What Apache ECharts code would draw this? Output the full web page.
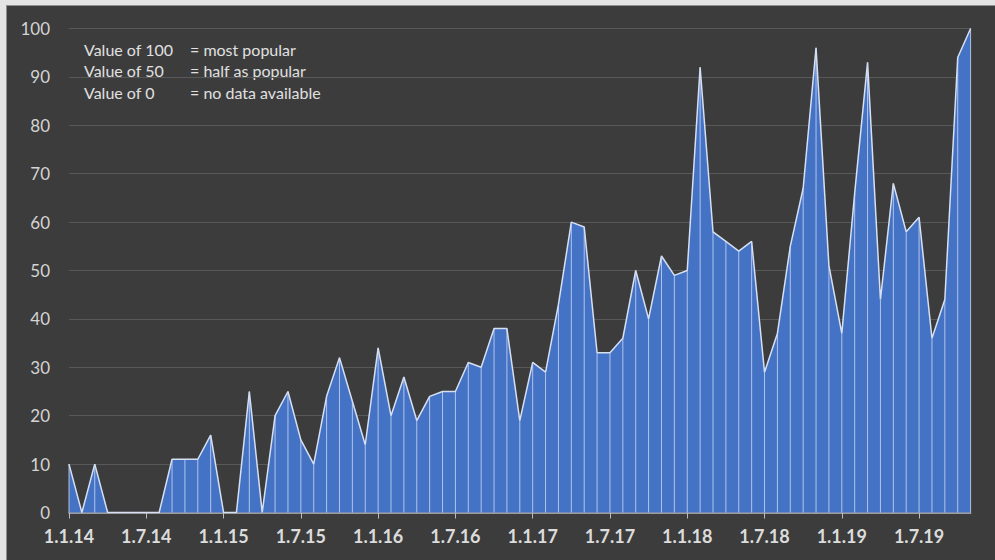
<!DOCTYPE html>
<html>
<head>
<meta charset="utf-8">
<script src="https://cdn.jsdelivr.net/npm/echarts@6/dist/echarts.min.js"></script>
<style>
html,body{margin:0;padding:0;background:#3c3c3c;}
#chart{width:995px;height:560px;}
</style>
</head>
<body>
<div id="chart"></div>
<script>
const categories = [
  '1.1.14','1.2.14','1.3.14','1.4.14','1.5.14','1.6.14','1.7.14','1.8.14','1.9.14','1.10.14','1.11.14','1.12.14',
  '1.1.15','1.2.15','1.3.15','1.4.15','1.5.15','1.6.15','1.7.15','1.8.15','1.9.15','1.10.15','1.11.15','1.12.15',
  '1.1.16','1.2.16','1.3.16','1.4.16','1.5.16','1.6.16','1.7.16','1.8.16','1.9.16','1.10.16','1.11.16','1.12.16',
  '1.1.17','1.2.17','1.3.17','1.4.17','1.5.17','1.6.17','1.7.17','1.8.17','1.9.17','1.10.17','1.11.17','1.12.17',
  '1.1.18','1.2.18','1.3.18','1.4.18','1.5.18','1.6.18','1.7.18','1.8.18','1.9.18','1.10.18','1.11.18','1.12.18',
  '1.1.19','1.2.19','1.3.19','1.4.19','1.5.19','1.6.19','1.7.19','1.8.19','1.9.19','1.10.19','1.11.19'
];
const popularity = [
  10,0,10,0,0,0,0,0,11,11,11,16,
  0,0,25,0,20,25,15,10,24,32,23,14,
  34,20,28,19,24,25,25,31,30,38,38,19,
  31,29,43,60,59,33,33,36,50,40,53,49,
  50,92,58,56,54,56,29,37,55,67,96,51,
  37,66,93,44,68,58,61,36,44,94,100
];
const tickLabels = ['1.1.14','1.7.14','1.1.15','1.7.15','1.1.16','1.7.16','1.1.17','1.7.17','1.1.18','1.7.18','1.1.19','1.7.19'];
const noteLeft = ['Value of 100','Value of 50','Value of 0'];
const noteRight = ['= most popular','= half as popular','= no data available'];

const chart = echarts.init(document.getElementById('chart'), null, {renderer:'svg'});
const FONT = 'Lato, "Open Sans", sans-serif';

const graphics = [
  {type:'rect', shape:{x:0,y:0,width:995,height:5}, style:{fill:'#e4e4e4'}, z:0},
  {type:'rect', shape:{x:0,y:0,width:6,height:560}, style:{fill:'#e4e4e4'}, z:0},
  {type:'line', shape:{x1:6,y1:5.5,x2:995,y2:5.5}, style:{stroke:'#8f8f8f',lineWidth:1}},
  {type:'line', shape:{x1:6.5,y1:5,x2:6.5,y2:560}, style:{stroke:'#8f8f8f',lineWidth:1}}
];
noteLeft.forEach((t,i)=>{
  graphics.push({type:'text', left:84, top:41+i*21.5, style:{text:t, fill:'#e0e0e0', font:'16px '+FONT}});
  graphics.push({type:'text', left:190, top:41+i*21.5, style:{text:noteRight[i], fill:'#e0e0e0', font:'16px '+FONT}});
});

chart.setOption({
  backgroundColor:'#3c3c3c',
  animation:false,
  grid:{left:69, right:24.4, top:28.5, bottom:47.5, containLabel:false},
  xAxis:{
    type:'category',
    data:categories,
    boundaryGap:false,
    axisLine:{lineStyle:{color:'#bdbdbd',width:1.5}},
    axisTick:{show:true, interval:5, length:6, lineStyle:{color:'#bdbdbd'}},
    axisLabel:{
      interval:5, margin:14, color:'#dcdcdc', fontSize:18, fontWeight:'bold', fontFamily:FONT,
      formatter:(v)=> tickLabels.indexOf(v) >= 0 ? v : ''
    },
    splitLine:{show:false}
  },
  yAxis:{
    type:'value', min:0, max:100, interval:10,
    axisLine:{show:false}, axisTick:{show:false},
    axisLabel:{color:'#d4d4d4', fontSize:17, fontFamily:FONT, margin:19},
    splitLine:{lineStyle:{color:'#585858', width:1}}
  },
  series:[
    {
      type:'line', data:popularity, symbol:'none',
      lineStyle:{color:'#d6e0f2', width:1.5},
      areaStyle:{color:'#4472c4', opacity:1},
      z:2
    },
    {
      type:'bar', data:popularity, barWidth:1,
      itemStyle:{color:'rgba(205,218,245,0.8)'},
      z:3
    }
  ],
  graphic:graphics
});
</script>
</body>
</html>
